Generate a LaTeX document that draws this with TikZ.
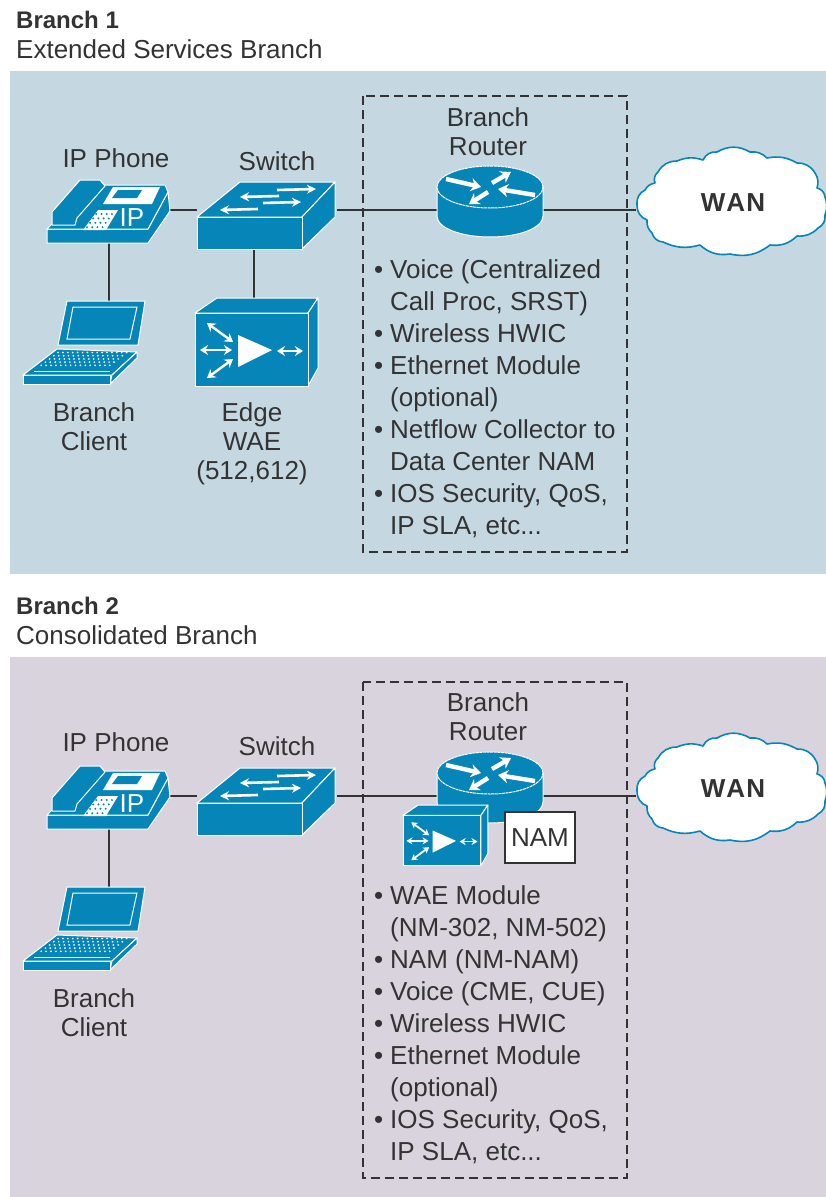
\documentclass[tikz,border=0pt]{standalone}
\usepackage{fontspec}
\setmainfont{Liberation Sans}
\usetikzlibrary{arrows.meta}
\definecolor{ciscoblue}{HTML}{0686B8}
\definecolor{panelblue}{HTML}{C5D8E1}
\definecolor{panelmauve}{HTML}{D9D3DE}
\definecolor{inkdark}{HTML}{333333}
\tikzset{
  x=1pt,y=-1pt,
  icon/.style={fill=ciscoblue,draw=white,line width=1pt,line join=round},
  wline/.style={draw=white,line width=1pt},
  dbl/.style={draw=white,line width=2.4pt,{Stealth[length=8pt,width=10pt]}-{Stealth[length=8pt,width=10pt]}},
  sgl/.style={draw=white,line width=2.6pt,-{Stealth[length=9pt,width=9pt]}},
  rarrow/.style={draw=white,line width=4.4pt,-{Stealth[length=10pt,width=13pt]}},
  conn/.style={draw=inkdark,line width=2pt},
  dashbox/.style={draw=inkdark,line width=1.8pt,dash pattern=on 9pt off 5pt},
  lbl/.style={text=inkdark,inner sep=0pt,font=\fontsize{26}{29}\selectfont,align=center,anchor=north},
  bullets/.style={text=inkdark,inner sep=0pt,font=\fontsize{26}{32}\selectfont,align=left,anchor=north west},
  headline/.style={text=inkdark,inner sep=0pt,font=\fontsize{26}{30}\selectfont,anchor=base west},
}
\newcommand{\lstbul}{\makebox[16pt][l]{•}}
\newcommand{\lstind}{\hspace*{16pt}}
% icons, drawn in Branch 1 coordinates
\newcommand{\iconPhone}[1]{%
  \draw[icon] (47,229) -- (47,243) -- (148,243) -- (170,211) -- (168,192) -- (148,229) -- cycle;
  \draw[icon] (47,229) -- (60,216) -- (105,185) -- (165,185) -- (168,192) -- (148,229) -- cycle;
  \draw[icon] (52,225) -- (52,212) -- (80,180) -- (100,180) -- (105,186) -- (77,218) -- (75,225) -- cycle;
  \fill[white] (103,204) -- (113,187) -- (160,187) -- (152,204) -- cycle;
  \fill[ciscoblue] (112,198) -- (118,190) -- (142,190) -- (137,198) -- cycle;
  \fill[white] (83,230) -- (98,210) -- (118,210) -- (106,230) -- cycle;
  \foreach \r in {0,1,2,3}{\foreach \c in {0,1,2,3}{
    \fill[ciscoblue] ({87+\c*5.2+(3-\r)*3.1},{214+\r*4.4}) circle[radius=1.1pt];}}
  \node[inner sep=0pt,text=white,font=\fontsize{26}{26}\selectfont] (ip#1) at (132,218) {IP};
}
\newcommand{\iconSwitch}{%
  \draw[icon] (197,217) -- (240,182) -- (335,182) -- (302,217) -- cycle;
  \draw[icon] (302,217) -- (335,182) -- (335,217) -- (302,249) -- cycle;
  \draw[icon] (197,217) rectangle (302,249);
  \draw[sgl] (277,190) -- (316,189);
  \draw[sgl] (279,196) -- (240,197);
  \draw[sgl] (263,203) -- (301,202);
  \draw[sgl] (258,209) -- (220,210);
}
\newcommand{\iconLaptop}{%
  \draw[icon] (67,301) -- (145,301) -- (138,345) -- (58,345) -- cycle;
  \draw[wline] (73,307) -- (137,307) -- (130,339) -- (67,339) -- cycle;
  \draw[icon] (23,375) -- (57,349) -- (137,352) -- (112,375) -- cycle;
  \draw[icon] (112,375) -- (137,352) -- (137,358) -- (110,384) -- cycle;
  \draw[icon] (23,375) rectangle (110,384);
  \foreach \r in {0,1,2,3,4}{\foreach \c in {0,...,14}{
    \fill[white] ({58+\c*4.9-\r*4.2},{352.5+\r*3.2}) circle[radius=.95pt];}}
  \draw[wline] (34,371) -- (110,371);
}
\newcommand{\iconWAEbody}{%
  \draw[icon] (0,15) -- (22,0) -- (123,0) -- (113,15) -- cycle;
  \draw[icon] (113,15) -- (123,0) -- (123,70) -- (113,88) -- cycle;
  \draw[icon] (0,15) rectangle (113,88);
  \fill[white] (43,37) -- (77,52) -- (43,69) -- cycle;
  \draw[dbl] (82,53) -- (108,53);
  \draw[dbl] (5,52) -- (37,52);
  \draw[dbl] (12,25) -- (38,44);
  \draw[dbl] (12,80) -- (38,61);
}
\newcommand{\iconRouter}{%
  \draw[icon] (437,187) -- (437,216) .. controls (437,228) and (461,237) .. (490,237)
     .. controls (519,237) and (543,228) .. (543,216) -- (543,187) -- cycle;
  \draw[icon,dash pattern=on 3pt off .6pt] (490,187) ellipse[x radius=53pt,y radius=21pt];
  \draw[rarrow] (446,179) -- (481,187);
  \draw[rarrow] (492,183) -- (511,172);
  \draw[rarrow] (535,195) -- (498,189);
  \draw[rarrow] (488,192) -- (469,204);
}
\newcommand{\iconCloud}{%
  \draw[fill=white,draw=ciscoblue,line width=1.6pt,line join=round]
    (637,205) to[bend left=35] (645,190) to[bend left=25] (655,183) to[bend left=35] (658,172)
    to[bend left=30] (677,161) to[bend left=20] (703,160) to[bend left=35] (717,152)
    to[bend left=30] (750,152) to[bend left=25] (767,158) to[bend left=20] (797,163)
    to[bend left=30] (815,173) to[bend left=25] (817,188) to[bend left=35] (825,197)
    to[bend left=20] (825,215) to[bend left=35] (818,228) to[bend left=25] (797,236)
    to[bend left=25] (770,245) to[bend left=25] (730,254) to[bend left=25] (700,245)
    to[bend left=20] (663,242) to[bend left=35] (652,233) to[bend left=25] (647,220)
    to[bend left=35] (637,205) -- cycle;
}
% anchors for the connectors
\newcommand{\netFrame}[1]{%
  \node[inner sep=0pt,minimum width=123pt,minimum height=60pt] (phone#1) at (108.5,210) {};
  \node[inner sep=0pt,minimum width=140pt,minimum height=56pt] (switch#1) at (267,210) {};
  \node[inner sep=0pt,minimum width=124pt,minimum height=83pt] (laptop#1) at (85,342.5) {};
  \node[inner sep=0pt,minimum width=106pt,minimum height=54pt] (router#1) at (490,210) {};
  \node[inner sep=0pt,minimum width=194pt,minimum height=110pt,font=\fontsize{26}{30}\bfseries\selectfont,text=inkdark] (wan#1) at (733,203) {W\kern1pt A\kern1pt N};
  \draw[conn] (phone#1.east) -- (switch#1.west);
  \draw[conn] (switch#1.east) -- (router#1.west);
  \draw[conn] (router#1.east) -- (router#1.east -| wan#1.west);
  \draw[conn] (phone#1.south) -- (phone#1.south |- laptop#1.north);
}
\begin{document}
\begin{tikzpicture}
\useasboundingbox (0,0) rectangle (826,1197);
\fill[white] (0,0) rectangle (826,1197);
\fill[panelblue] (10,71) rectangle (826,574);
\fill[panelmauve] (10,657) rectangle (826,1197);
\draw[dashbox] (363,96) rectangle (627,552);
\draw[dashbox] (363,682) rectangle (627,1178);

\node[headline,font=\fontsize{24}{30}\bfseries\selectfont] (t1) at (16,28) {Branch 1};
\node[headline] (t2) at (16,58) {Extended Services Branch};
\node[headline,font=\fontsize{24}{30}\bfseries\selectfont] (t3) at (16,614) {Branch 2};
\node[headline] (t4) at (16,644) {Consolidated Branch};

% Branch 1
\iconCloud
\netFrame{A}
\node[inner sep=0pt,minimum width=118pt,minimum height=88pt] (waeA) at (254,342) {};
\draw[conn] (switchA.south -| waeA.north) -- (waeA.north);
\iconPhone{A}
\iconSwitch
\iconLaptop
\iconRouter
\begin{scope}[shift={(195,298)}]\iconWAEbody\end{scope}
\node[lbl] (lphoneA) at (116,148) {IP Phone};
\node[lbl] (lswitchA) at (277,151) {Switch};
\node[lbl] (lrouterA) at (488,107) {Branch\\Router};
\node[lbl] (lclientA) at (94,402) {Branch\\Client};
\node[lbl] (lwaeA) at (252,402) {Edge\\WAE\\(512,612)};
\node[bullets] (listA) at (374,259) {\lstbul Voice (Centralized\\\lstind Call Proc, SRST)\\\lstbul Wireless HWIC\\\lstbul Ethernet Module\\\lstind (optional)\\\lstbul Netflow Collector to\\\lstind Data Center NAM\\\lstbul IOS Security, QoS,\\\lstind IP SLA, etc...};

% Branch 2
\begin{scope}[shift={(0,586)}]
\iconCloud
\netFrame{B}
\iconPhone{B}
\iconSwitch
\iconLaptop
\iconRouter
\end{scope}
\begin{scope}[shift={(403,805)},scale=.69,
  dbl/.style={draw=white,line width=1.8pt,{Stealth[length=6pt,width=7pt]}-{Stealth[length=6pt,width=7pt]}}]\iconWAEbody\end{scope}
\node[draw=inkdark,fill=white,line width=1.8pt,inner sep=0pt,minimum width=70pt,minimum height=51pt,text=inkdark,font=\fontsize{26}{30}\selectfont] (nam) at (540,837.5) {NAM};
\node[lbl] (lphoneB) at (116,732) {IP Phone};
\node[lbl] (lswitchB) at (277,736) {Switch};
\node[lbl] (lrouterB) at (488,692) {Branch\\Router};
\node[lbl] (lclientB) at (94,988) {Branch\\Client};
\node[bullets] (listB) at (374,885) {\lstbul WAE Module\\\lstind (NM-302, NM-502)\\\lstbul NAM (NM-NAM)\\\lstbul Voice (CME, CUE)\\\lstbul Wireless HWIC\\\lstbul Ethernet Module\\\lstind (optional)\\\lstbul IOS Security, QoS,\\\lstind IP SLA, etc...};
\end{tikzpicture}
\end{document}
